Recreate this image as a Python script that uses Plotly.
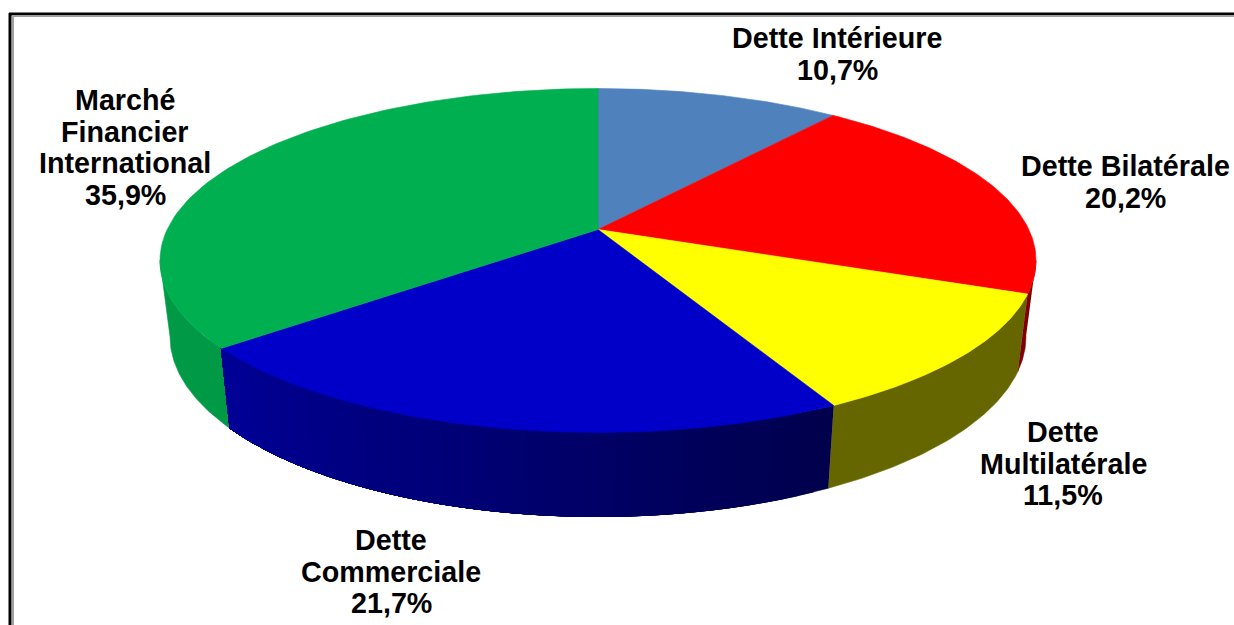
import numpy as np
import plotly.graph_objects as go

# ---- data ----
names = ["Dette Intérieure", "Dette Bilatérale", "Dette Multilatérale",
         "Dette Commerciale", "Marché Financier International"]
values = [10.7, 20.2, 11.5, 21.7, 35.9]
label_lines = [["Dette Intérieure"], ["Dette Bilatérale"], ["Dette", "Multilatérale"],
               ["Dette", "Commerciale"], ["Marché", "Financier", "International"]]
pct_text = ["10,7%", "20,2%", "11,5%", "21,7%", "35,9%"]
top_colors = ["#4F81BD", "#FF0000", "#FFFF00", "#0000C8", "#00B050"]
side_left = [(47, 77, 113), (128, 0, 0), (102, 102, 0), (0, 0, 150), (0, 154, 70)]
side_right = [(47, 77, 113), (128, 0, 0), (102, 102, 0), (0, 0, 76), (0, 154, 70)]
label_x = [837, 1125, 1063, 391, 125]
label_first_y = [38, 166, 432, 540, 100]
LINE_PITCH = 31.7

# ---- projection of the tilted disc onto the page ----
CX, TOP_CY, TOP_RX, TOP_RY = 598, 260.5, 438, 172
BOT_CY, BOT_RX, BOT_RY = 336.5, 428, 180
A = -0.18          # perspective shift of the pie centre
SIL = np.arccos(A)  # angle where the outline turns from back to front

def project(theta):
    u, v = np.sin(theta), -np.cos(theta)
    d = 1 + A * v
    return u * np.sqrt(1 - A * A) / d, (v + A) / d

def arc(t0, t1, n=90):
    return project(np.linspace(t0, t1, n))

fig = go.Figure()

def poly(x, y, color):
    fig.add_trace(go.Scatter(x=x, y=y, mode="lines", fill="toself", fillcolor=color,
                             line=dict(color=color, width=0.6), hoverinfo="skip",
                             showlegend=False))

edges = 2 * np.pi * np.concatenate([[0], np.cumsum(values)]) / 100

# sides: only the front part is visible; back to front
for i in [1, 2, 4, 3]:
    t0, t1 = max(edges[i], SIL), min(edges[i + 1], 2 * np.pi - SIL)
    if t1 <= t0:
        continue
    strips = 40 if side_left[i] != side_right[i] else 1
    cuts = np.linspace(t0, t1, strips + 1)
    for k in range(strips):
        f = k / max(strips - 1, 1)
        # nested bands, each one painted over the previous, so no seams show
        c = [round(r + (l - r) * f) for l, r in zip(side_left[i], side_right[i])]
        u, v = arc(cuts[k], t1, 60)
        x = np.concatenate([CX + u * TOP_RX, (CX + u * BOT_RX)[::-1]])
        y = np.concatenate([TOP_CY + v * TOP_RY, (BOT_CY + v * BOT_RY)[::-1]])
        poly(x, y, f"rgb({c[0]},{c[1]},{c[2]})")

# top surface
for i in range(len(values)):
    u, v = arc(edges[i], edges[i + 1])
    ax, ay = CX, TOP_CY + A * TOP_RY
    poly(np.concatenate([[ax], CX + u * TOP_RX, [ax]]),
         np.concatenate([[ay], TOP_CY + v * TOP_RY, [ay]]), top_colors[i])

# labels, one annotation per line to hold the tight line pitch
for lines, pct, lx, ly in zip(label_lines, pct_text, label_x, label_first_y):
    for n, line in enumerate(lines + [pct]):
        fig.add_annotation(x=lx, y=ly + n * LINE_PITCH, text=line, showarrow=False,
                           xanchor="center", yanchor="middle", align="center",
                           font=dict(family="Liberation Sans", size=28.7, weight="bold",
                                     color="#000000"))

fig.update_layout(
    width=1234, height=625, autosize=False,
    margin=dict(l=0, r=0, t=0, b=0),
    paper_bgcolor="#FFFFFF", plot_bgcolor="#FFFFFF",
    xaxis=dict(range=[0, 1234], visible=False, fixedrange=True),
    yaxis=dict(range=[625, 0], visible=False, fixedrange=True),
    font=dict(family="Liberation Sans"),
    shapes=[
        dict(type="line", x0=9, x1=1234, y0=14, y1=14, line=dict(color="#000000", width=3)),
        dict(type="line", x0=10, x1=10, y0=13, y1=625, line=dict(color="#000000", width=3)),
        dict(type="line", x0=12, x1=1234, y0=16, y1=16, line=dict(color="#A0A0A0", width=2)),
        dict(type="line", x0=13, x1=13, y0=16, y1=625, line=dict(color="#A0A0A0", width=2)),
    ],
)
fig.write_html("out.html", config=dict(displayModeBar=False),
               post_script="document.body.style.margin='0';document.body.style.overflow='hidden';")
